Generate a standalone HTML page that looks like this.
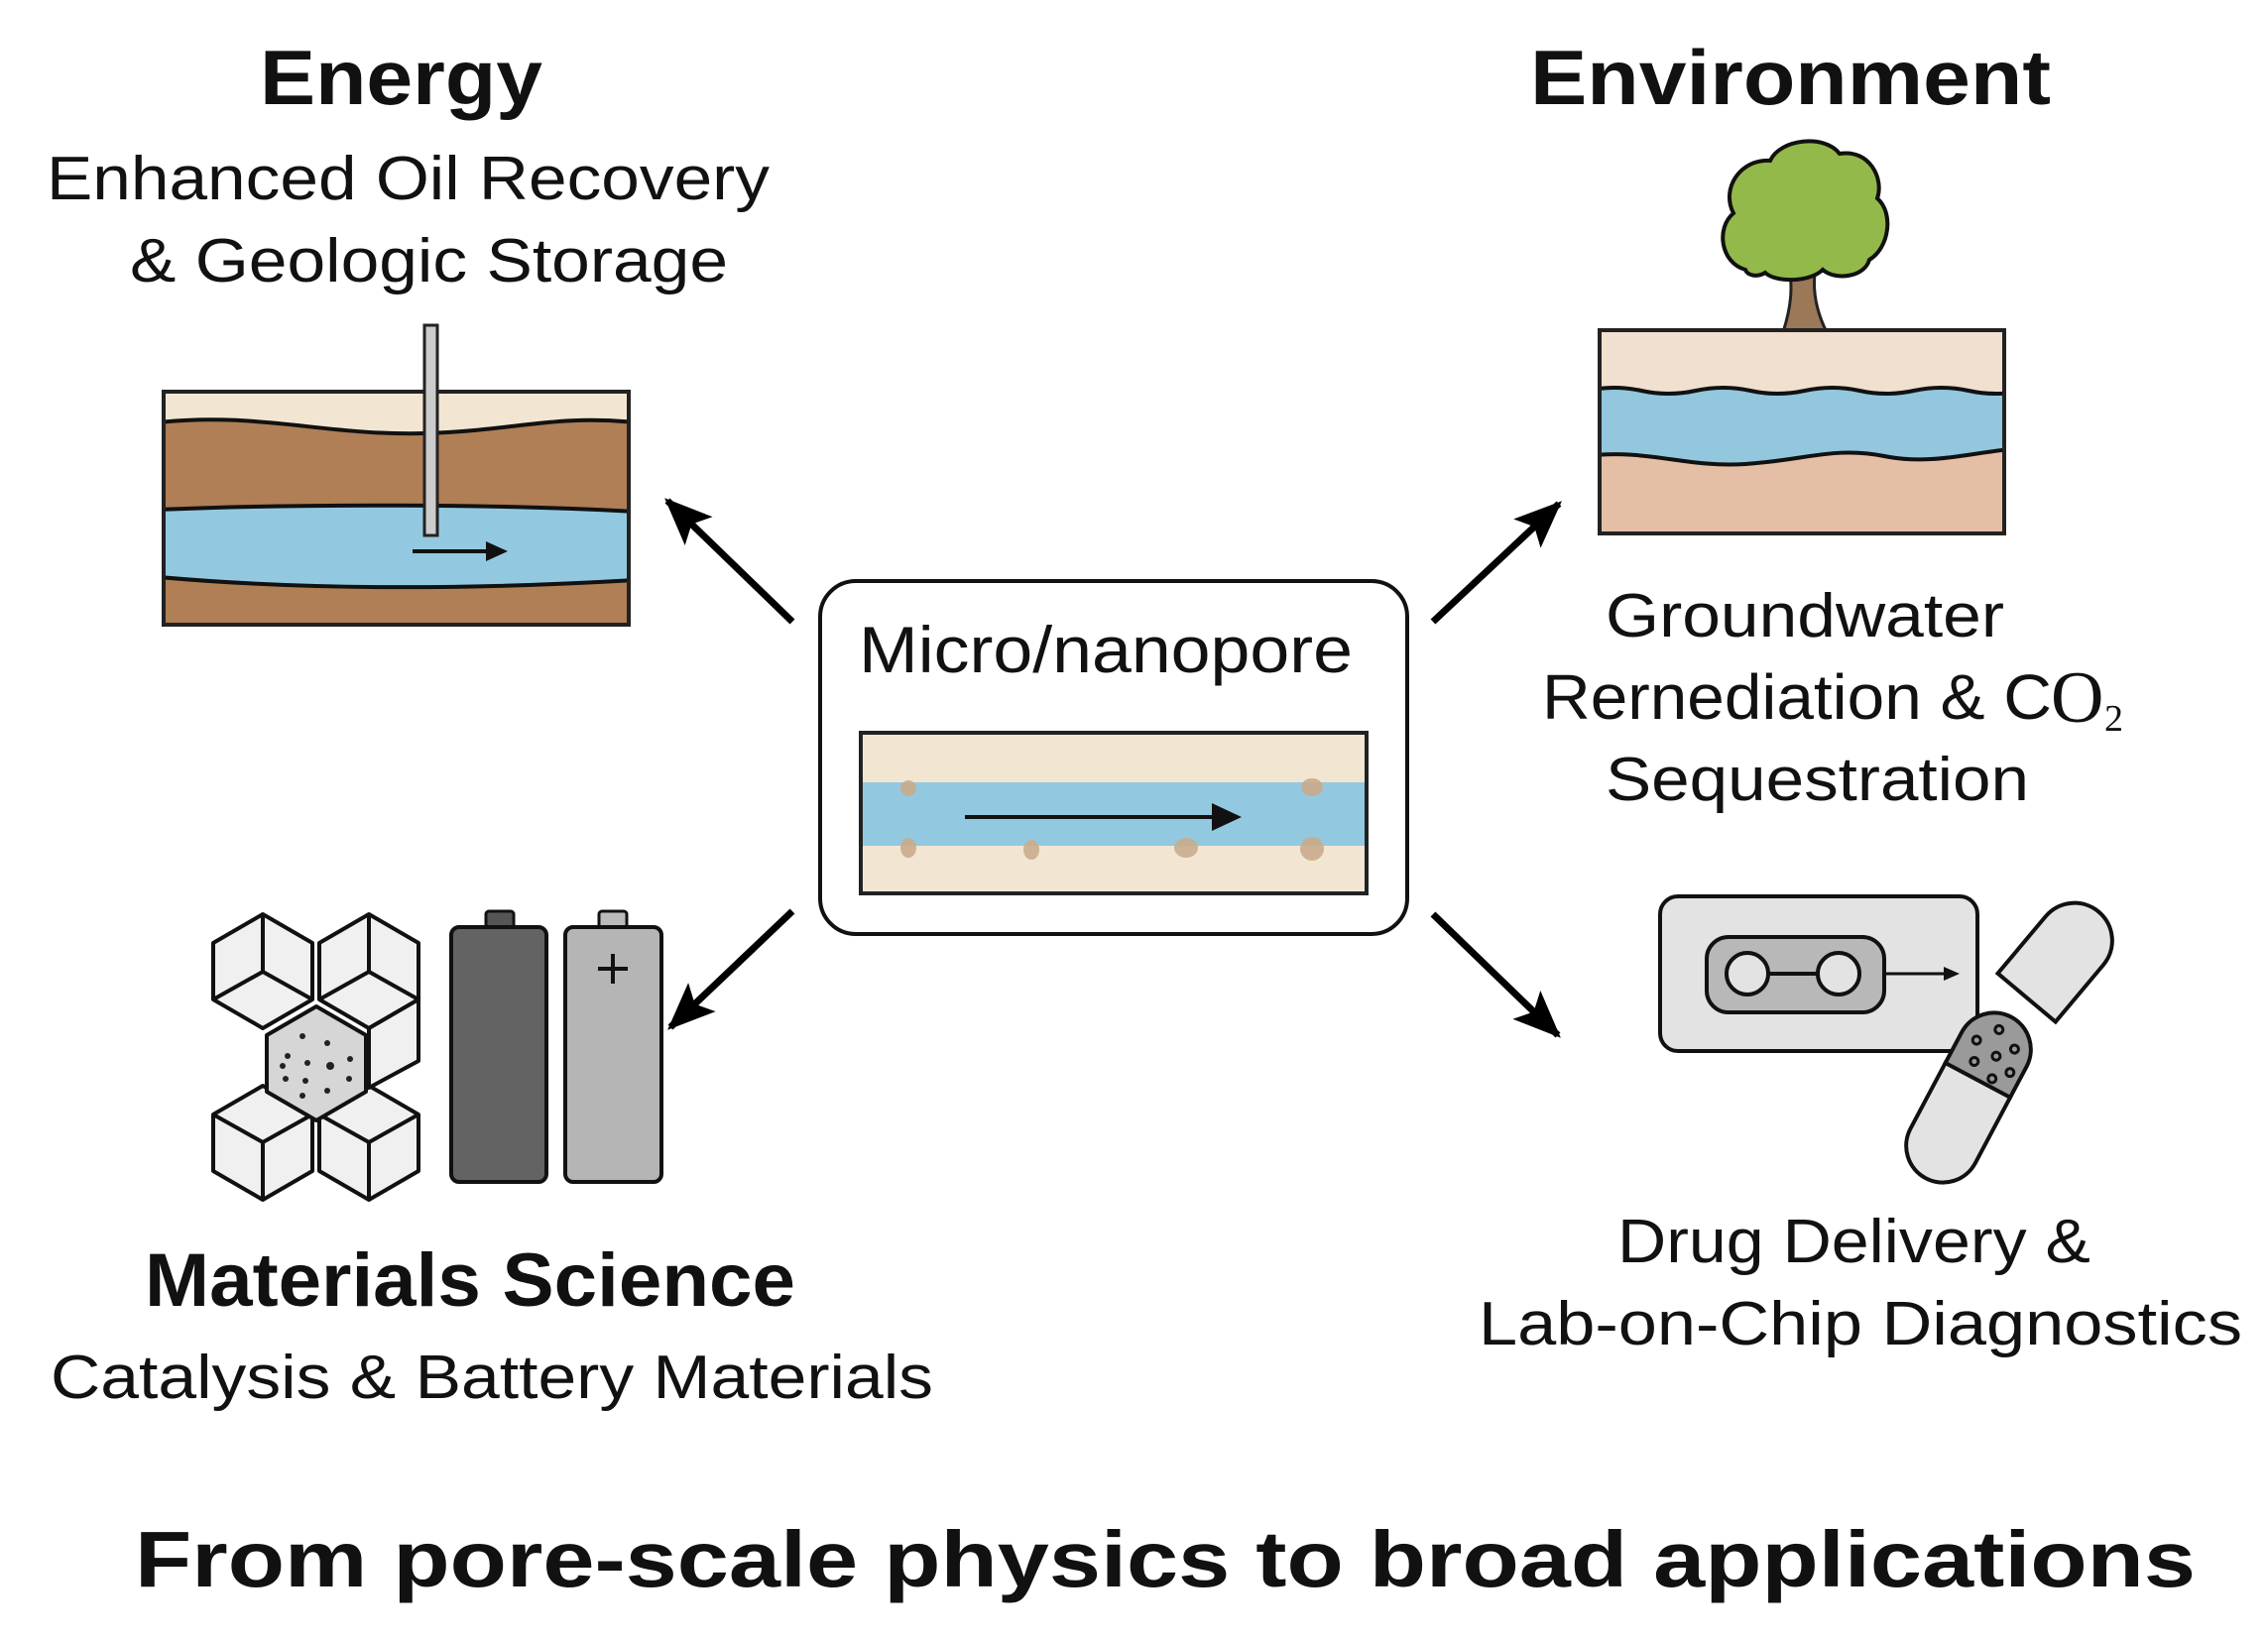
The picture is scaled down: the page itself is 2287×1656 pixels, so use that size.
<!DOCTYPE html>
<html><head><meta charset="utf-8"><style>
html,body{margin:0;padding:0;background:#fff;}
svg{display:block;}
text{font-family:"Liberation Sans",Arial,sans-serif;fill:#111;}
</style></head><body>
<svg width="2287" height="1656" viewBox="0 0 2287 1656" xmlns="http://www.w3.org/2000/svg">
<defs>
<marker id="ah" markerUnits="userSpaceOnUse" markerWidth="50" markerHeight="50" viewBox="0 0 50 50" refX="44" refY="25" orient="auto">
<path d="M0,5 L48,25 L0,45 L10,25 Z" fill="#000"/>
</marker>
<clipPath id="ebox"><rect x="165" y="395" width="469" height="235"/></clipPath>
<clipPath id="vbox"><rect x="1613" y="333" width="408" height="205"/></clipPath>
</defs>
<rect width="2287" height="1656" fill="#fff"/>

<text x="262" y="105" font-size="78" font-weight="bold" textLength="285" lengthAdjust="spacingAndGlyphs">Energy</text>
<text x="47" y="201" font-size="62" textLength="729" lengthAdjust="spacingAndGlyphs">Enhanced Oil Recovery</text>
<text x="131" y="284" font-size="62" textLength="603" lengthAdjust="spacingAndGlyphs">&amp; Geologic Storage</text>
<text x="1543" y="105" font-size="78" font-weight="bold" textLength="525" lengthAdjust="spacingAndGlyphs">Environment</text>

<g clip-path="url(#ebox)">
<rect x="165" y="395" width="469" height="235" fill="#f2e6d2"/>
<path d="M160,426 C260,415 330,440 430,437 C520,434 560,418 640,426 L640,640 L160,640 Z" fill="#b07f55" stroke="#111" stroke-width="4"/>
<path d="M160,514 C300,508 500,508 640,516 L640,585 C520,592 340,598 160,582 Z" fill="#93c9e0" stroke="#111" stroke-width="4"/>
</g>
<rect x="165" y="395" width="469" height="235" fill="none" stroke="#222" stroke-width="4"/>
<rect x="428" y="328" width="13" height="212" fill="#ccc" stroke="#222" stroke-width="3"/>
<line x1="416" y1="556" x2="508" y2="556" stroke="#111" stroke-width="4"/>
<path d="M490,546 L512,556 L490,566 Z" fill="#111"/>

<path d="M1798,335 C1806,310 1808,290 1804,270 L1790,255 L1800,252 L1812,264 L1818,250 L1826,252 L1824,266 L1838,256 L1844,262 L1830,276 C1828,295 1832,315 1842,335 Z" fill="#9b7858" stroke="#222" stroke-width="3"/>
<path d="M1760,272 C1735,265 1730,230 1748,215 C1735,190 1755,160 1785,162 C1795,140 1840,135 1855,155 C1885,150 1900,180 1893,200 C1910,215 1905,250 1885,262 C1880,280 1850,283 1838,272 C1825,285 1790,285 1780,275 C1772,280 1762,278 1760,272 Z" fill="#93b94a" stroke="#111" stroke-width="4"/>
<g clip-path="url(#vbox)">
<rect x="1613" y="333" width="408" height="205" fill="#f1dfcf"/>
<path d="M1600,394 Q1628,388 1655,394 T1710,394 T1765,394 T1820,394 T1875,394 T1930,394 T1985,394 T2040,394 L2040,470 L1600,470 Z" fill="#92c7de" stroke="#111" stroke-width="4"/>
<path d="M1600,460 C1660,452 1700,472 1760,468 C1820,464 1850,450 1900,460 C1950,470 1990,455 2040,452 L2040,545 L1600,545 Z" fill="#e4bfa6" stroke="#111" stroke-width="4"/>
</g>
<rect x="1613" y="333" width="408" height="205" fill="none" stroke="#222" stroke-width="4"/>

<text x="1619" y="642" font-size="62" textLength="402" lengthAdjust="spacingAndGlyphs">Groundwater</text>
<text x="1555" y="725" font-size="64" textLength="514" lengthAdjust="spacingAndGlyphs">Rernediation &amp; C</text>
<text x="2068" y="728" font-size="74" style="font-family:'Liberation Serif',serif">O</text>
<text x="2122" y="737" font-size="38" style="font-family:'Liberation Serif',serif">2</text>
<text x="1619" y="807" font-size="62" textLength="427" lengthAdjust="spacingAndGlyphs">Sequestration</text>

<rect x="827" y="586" width="592" height="356" rx="36" fill="#fff" stroke="#111" stroke-width="4"/>
<text x="866" y="678" font-size="66" textLength="498" lengthAdjust="spacingAndGlyphs">Micro/nanopore</text>
<rect x="868" y="739" width="510" height="162" fill="#f2e6d2"/>
<rect x="868" y="789" width="510" height="64" fill="#93c9e0"/>
<g fill="#c9ac8c" opacity="0.9">
<ellipse cx="916" cy="795" rx="8" ry="8"/><ellipse cx="916" cy="855" rx="8" ry="10"/>
<ellipse cx="1040" cy="857" rx="8" ry="10"/>
<ellipse cx="1196" cy="855" rx="12" ry="10"/>
<ellipse cx="1323" cy="794" rx="11" ry="9"/><ellipse cx="1323" cy="856" rx="12" ry="12"/>
</g>
<rect x="868" y="739" width="510" height="162" fill="none" stroke="#222" stroke-width="4"/>
<line x1="973" y1="824" x2="1225" y2="824" stroke="#111" stroke-width="4"/>
<path d="M1222,810 L1252,824 L1222,838 Z" fill="#111"/>

<g stroke="#000" stroke-width="7" marker-end="url(#ah)">
<line x1="799" y1="627" x2="673" y2="505"/>
<line x1="1445" y1="627" x2="1572" y2="508"/>
<line x1="799" y1="919" x2="676" y2="1036"/>
<line x1="1445" y1="922" x2="1571" y2="1044"/>
</g>

<g stroke="#111" stroke-width="4" stroke-linejoin="round">
<g fill="#f0f0f0">
<path d="M265,922 L315,951 L315,1008 L265,1037 L215,1008 L215,951 Z"/>
<path d="M265,922 L265,980 L315,1008 M265,980 L215,1008" fill="none"/>
<path d="M372,922 L422,951 L422,1008 L372,1037 L322,1008 L322,951 Z"/>
<path d="M372,922 L372,980 L422,1008 M372,980 L322,1008" fill="none"/>
<path d="M265,1095 L315,1124 L315,1181 L265,1210 L215,1181 L215,1124 Z"/>
<path d="M215,1124 L265,1152 L315,1124 M265,1152 L265,1210" fill="none"/>
<path d="M372,1095 L422,1124 L422,1181 L372,1210 L322,1181 L322,1124 Z"/>
<path d="M322,1124 L372,1152 L422,1124 M372,1152 L372,1210" fill="none"/>
<path d="M372,1037 L422,1008 L422,1070 L372,1097 Z"/>
</g>
<path d="M319,1015 L369,1044 L369,1101 L319,1130 L269,1101 L269,1044 Z" fill="#d6d6d6"/>
</g>
<g fill="#222">
<circle cx="305" cy="1045" r="3"/><circle cx="330" cy="1052" r="3"/><circle cx="290" cy="1065" r="3"/>
<circle cx="310" cy="1072" r="3"/><circle cx="333" cy="1075" r="4"/><circle cx="353" cy="1068" r="3"/>
<circle cx="288" cy="1088" r="3"/><circle cx="308" cy="1090" r="3"/><circle cx="352" cy="1088" r="3"/>
<circle cx="330" cy="1100" r="3"/><circle cx="305" cy="1105" r="3"/><circle cx="285" cy="1075" r="3"/>
</g>
<rect x="490" y="919" width="28" height="18" rx="3" fill="#555" stroke="#111" stroke-width="3"/>
<rect x="455" y="935" width="96" height="257" rx="8" fill="#636363" stroke="#111" stroke-width="4"/>
<rect x="604" y="919" width="28" height="18" rx="3" fill="#bbb" stroke="#111" stroke-width="3"/>
<rect x="570" y="935" width="97" height="257" rx="8" fill="#b5b5b5" stroke="#111" stroke-width="4"/>
<path d="M618,962 L618,992 M603,977 L633,977" stroke="#111" stroke-width="4"/>

<text x="146" y="1317" font-size="76" font-weight="bold" textLength="656" lengthAdjust="spacingAndGlyphs">Materials Science</text>
<text x="51" y="1410" font-size="62" textLength="890" lengthAdjust="spacingAndGlyphs">Catalysis &amp; Battery Materials</text>

<rect x="1674" y="904" width="320" height="156" rx="18" fill="#e3e3e3" stroke="#111" stroke-width="4"/>
<rect x="1721" y="945" width="179" height="76" rx="22" fill="#b8b8b8" stroke="#111" stroke-width="4"/>
<line x1="1762" y1="982" x2="1854" y2="982" stroke="#111" stroke-width="4"/>
<circle cx="1762" cy="982" r="21" fill="#e3e3e3" stroke="#111" stroke-width="4"/>
<circle cx="1854" cy="982" r="21" fill="#e3e3e3" stroke="#111" stroke-width="4"/>
<line x1="1900" y1="982" x2="1965" y2="982" stroke="#111" stroke-width="3"/>
<path d="M1960,975 L1976,982 L1960,989 Z" fill="#111"/>
<g transform="translate(2079,964) rotate(40)">
<path d="M-38,55 L-38,-20 A38,38 0 0 1 38,-20 L38,55 Z" fill="#e3e3e3" stroke="#111" stroke-width="4"/>
</g>
<g transform="translate(1985,1107) rotate(28)">
<path d="M-37,-20 L-37,55 A37,37 0 0 0 37,55 L37,-20 Z" fill="#e3e3e3" stroke="#111" stroke-width="4"/>
<path d="M-37,-20 L-37,-55 A37,37 0 0 1 37,-55 L37,-20 Z" fill="#9a9a9a" stroke="#111" stroke-width="4"/>
<g fill="none" stroke="#111" stroke-width="3">
<circle cx="-5" cy="-75" r="4"/><circle cx="18" cy="-65" r="4"/><circle cx="-20" cy="-55" r="4"/>
<circle cx="5" cy="-50" r="4"/><circle cx="25" cy="-42" r="4"/><circle cx="-12" cy="-35" r="4"/><circle cx="12" cy="-28" r="4"/>
</g>
</g>

<text x="1631" y="1273" font-size="62" textLength="477" lengthAdjust="spacingAndGlyphs">Drug Delivery &amp;</text>
<text x="1491" y="1356" font-size="62" textLength="770" lengthAdjust="spacingAndGlyphs">Lab-on-Chip Diagnostics</text>

<text x="136" y="1600" font-size="80" font-weight="bold" textLength="2078" lengthAdjust="spacingAndGlyphs">From pore-scale physics to broad applications</text>
</svg>
</body></html>
